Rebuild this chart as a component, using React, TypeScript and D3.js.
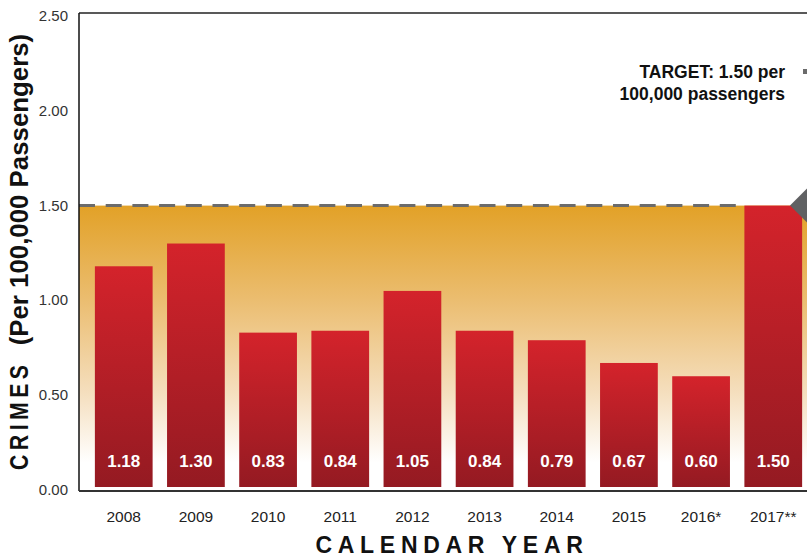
import React from "react";
import * as d3 from "d3";

const years = ["2008", "2009", "2010", "2011", "2012", "2013", "2014", "2015", "2016*", "2017**"];
const crimes = [1.18, 1.3, 0.83, 0.84, 1.05, 0.84, 0.79, 0.67, 0.6, 1.5];
const yTicks = [0, 0.5, 1, 1.5, 2, 2.5];
const target = 1.5;
const targetLines = ["TARGET: 1.50 per", "100,000 passengers"];

const W = 807;
const H = 557;
const left = 79;
const top = 13;
const bottom = 491;

const App = () => {
    const x = d3.scaleBand<string>()
        .domain(years)
        .range([left, 818])
        .paddingInner(0.2)
        .paddingOuter(0.22);

    const y = d3.scaleLinear().domain([0, 2.5]).range([490, 16]);

    const font = "'Liberation Sans', Arial, sans-serif";
    const ty = y(target);
    const lastX = x(years[years.length - 1]) as number;

    return (
        <svg width={W} height={H} style={{position: "absolute", left: 0, top: 0}}>
            <defs>
                <linearGradient id="bgGrad" x1="0" y1="0" x2="0" y2="1">
                    <stop offset="0" stopColor="#e2a127"/>
                    <stop offset="0.33" stopColor="#ebbd70"/>
                    <stop offset="0.66" stopColor="#f5dfbf"/>
                    <stop offset="0.9" stopColor="#ffffff"/>
                </linearGradient>
                <linearGradient id="barGrad" x1="0" y1="0" x2="0" y2="1">
                    <stop offset="0" stopColor="#d4232b"/>
                    <stop offset="1" stopColor="#941a22"/>
                </linearGradient>
            </defs>
            <rect x={0} y={0} width={W} height={H} fill="#fff"/>

            {/* target band */}
            <rect x={left} y={ty} width={W - left} height={bottom - ty} fill="url(#bgGrad)"/>

            {/* bars */}
            {crimes.map((v, i) => {
                const bx = x(years[i]) as number;
                const y0 = y(0) - 3;
                return (
                    <g key={years[i]}>
                        <rect x={bx} y={y(v)} width={x.bandwidth()} height={y0 - y(v)} fill="url(#barGrad)"/>
                        <text x={bx + x.bandwidth() / 2} y={467} textAnchor="middle" fill="#fff"
                              fontFamily={font} fontWeight="bold" fontSize={17}>
                            {v.toFixed(2)}
                        </text>
                    </g>
                );
            })}

            {/* target line */}
            <line x1={left} x2={lastX} y1={ty} y2={ty} stroke="#6b6b6b" strokeWidth={3} strokeDasharray="16 10.7"/>
            <polygon points={`790,${ty} 812,${ty - 22} 834,${ty} 812,${ty + 22}`} fill="#606163"/>
            <rect x={803} y={69} width={5} height={5} fill="#6b6b6b"/>
            {targetLines.map((t, i) => (
                <text key={t} x={785} y={78 + i * 22} textAnchor="end" fontFamily={font}
                      fontWeight="bold" fontSize={17.5} fill="#111">{t}</text>
            ))}

            {/* frame */}
            <line x1={left} x2={W} y1={top} y2={top} stroke="#222" strokeWidth={1.3}/>
            <line x1={left} x2={left} y1={top} y2={bottom} stroke="#111" strokeWidth={1.5}/>
            <line x1={left} x2={W} y1={bottom} y2={bottom} stroke="#333" strokeWidth={2}/>

            {/* y ticks */}
            {yTicks.map(t => (
                <text key={t} x={68} y={y(t) + 5} textAnchor="end" fontFamily={font}
                      fontSize={15} fill="#333">{t.toFixed(2)}</text>
            ))}

            {/* x ticks */}
            {years.map(yr => (
                <text key={yr} x={(x(yr) as number) + x.bandwidth() / 2} y={522} textAnchor="middle"
                      fontFamily={font} fontSize={15.5} fill="#222">{yr}</text>
            ))}

            {/* axis titles */}
            <g transform="translate(28,470) rotate(-90) scale(0.82,1)" fontFamily={font} fontWeight="bold"
               fontSize={26} fill="#111">
                <text x={0} y={0} letterSpacing={5.4}>CRIMES</text>
                <text x={152} y={0} textLength={380} lengthAdjust="spacingAndGlyphs">(Per 100,000 Passengers)</text>
            </g>
            <text x={452} y={553} textAnchor="middle" fontFamily={font} fontWeight="bold"
                  fontSize={23} letterSpacing={5.7} fill="#111">CALENDAR YEAR</text>
        </svg>
    );
};

export default App;
